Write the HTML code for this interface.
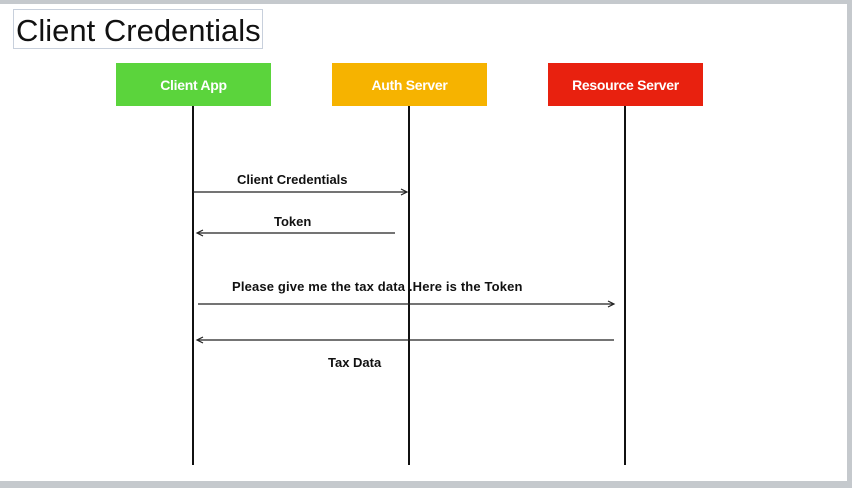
<!DOCTYPE html>
<html><head><style>
body{margin:0;width:852px;height:488px;background:#c5c9cd;position:relative;overflow:hidden;font-family:"Liberation Sans",sans-serif}
.page{position:absolute;left:0;top:4px;width:847px;height:477px;background:#fff}
.box{position:absolute;top:63px;width:155px;height:43px;color:#fff;font-size:14px;text-align:center;line-height:44px;font-weight:bold;letter-spacing:-0.3px}
.lbl{position:absolute;font-size:13px;font-weight:bold;color:#111;white-space:nowrap}
</style></head><body>
<div class="page"></div>
<div style="position:absolute;left:13px;top:9px;width:248px;height:38px;border:1px solid #c8d0dc"></div>
<div style="position:absolute;left:16px;top:13px;font-size:31px;color:#111">Client Credentials</div>
<div class="box" style="left:116px;background:#5bd43c">Client App</div>
<div class="box" style="left:332px;background:#f6b300">Auth Server</div>
<div class="box" style="left:548px;background:#e8210f">Resource Server</div>
<svg width="852" height="488" style="position:absolute;left:0;top:0">
<g stroke="#111" stroke-width="2"><line x1="193" y1="106" x2="193" y2="465"/><line x1="409" y1="106" x2="409" y2="465"/><line x1="625" y1="106" x2="625" y2="465"/></g>
<g stroke="#222" stroke-width="1.2" fill="none">
<line x1="193" y1="192" x2="406" y2="192"/><path d="M401 189 L407 192 L401 195"/>
<line x1="198" y1="233" x2="395" y2="233"/><path d="M203 230 L197 233 L203 236"/>
<line x1="198" y1="304" x2="613" y2="304"/><path d="M608 301 L614 304 L608 307"/>
<line x1="198" y1="340" x2="614" y2="340"/><path d="M203 337 L197 340 L203 343"/>
</g></svg>
<div class="lbl" style="left:237px;top:172px">Client Credentials</div>
<div class="lbl" style="left:274px;top:214px">Token</div>
<div class="lbl" style="left:232px;top:279px;letter-spacing:0.15px">Please give me the tax data .Here is the Token</div>
<div class="lbl" style="left:328px;top:355px">Tax Data</div>
</body></html>
